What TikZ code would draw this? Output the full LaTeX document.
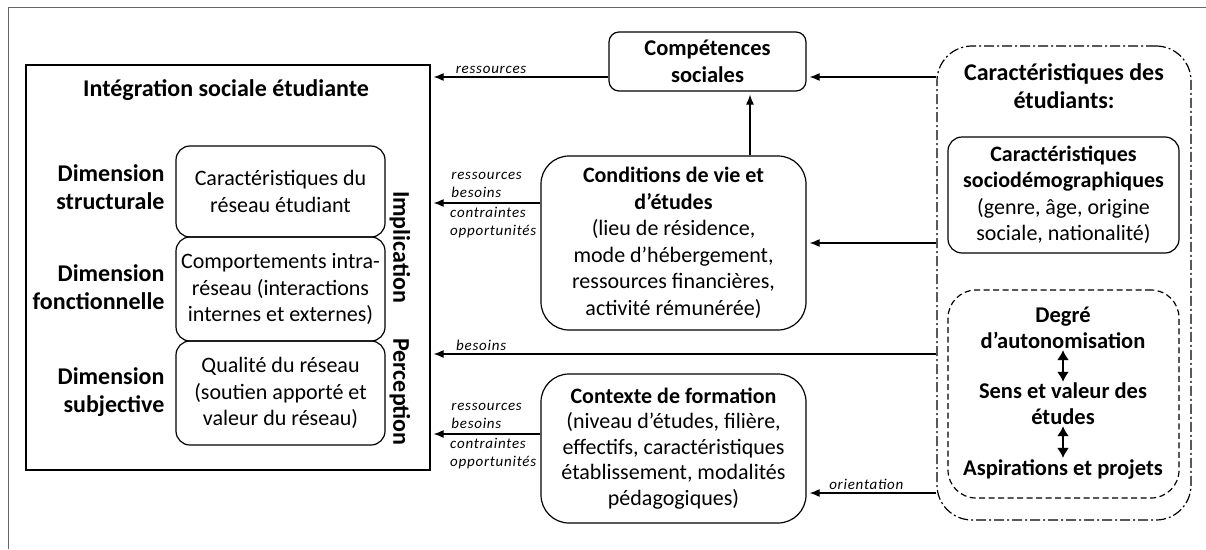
\documentclass[tikz,border=0pt]{standalone}
\usepackage{fontspec}
\setmainfont{Carlito}
\usetikzlibrary{arrows.meta}

\begin{document}
\begin{tikzpicture}[x=1pt, y=-1pt,
  txt/.style={font=\fontsize{22}{26.5}\selectfont, align=center},
  hd/.style={font=\fontsize{24}{28}\selectfont\bfseries, align=center},
  dim/.style={font=\fontsize{24}{28}\selectfont\bfseries, align=right, anchor=east},
  lab/.style={font=\fontsize{15}{18}\selectfont\itshape\addfontfeatures{LetterSpace=5}, align=left, inner sep=1pt},
  box/.style={draw, line width=1.2pt, rounded corners=#1, txt},
  arr/.style={-{Latex[length=10pt, width=8pt]}, line width=1.2pt, shorten >=3pt},
  dbl/.style={{Latex[length=10pt, width=12pt]}-{Latex[length=10pt, width=12pt]}, line width=2.5pt}]
\useasboundingbox (0,0) rectangle (1206,549);
\draw[black!60, line width=1pt] (8,549) -- (8,7) -- (1206,7);

\node[draw, line width=1.2pt, minimum width=404pt, minimum height=405pt] (integ) at (228,267.5) {};
\node[hd] (titre) at (226,90) {Intégration sociale étudiante};
\node[box=14pt, minimum width=209pt, minimum height=91pt] (struct) at (280.5,191.5) {Caractéristiques du\\réseau étudiant};
\node[box=14pt, minimum width=209pt, minimum height=104pt] (fonct) at (280.5,289) {Comportements intra-\\réseau (interactions\\internes et externes)};
\node[box=14pt, minimum width=209pt, minimum height=104pt] (subj) at (280.5,393) {Qualité du réseau\\(soutien apporté et\\valeur du réseau)};
\node[dim] (dstruct) at (168,187) {Dimension\\structurale};
\node[dim] (dfonct) at (168,287) {Dimension\\fonctionnelle};
\node[dim] (dsubj) at (168,392) {Dimension\\subjective};
\node[hd, rotate=-90] (impl) at (400,247) {Implication};
\node[hd, rotate=-90] (perc) at (400,392) {Perception};

\node[box=10pt, font=\fontsize{22.5}{26.5}\selectfont\bfseries, minimum width=197pt, minimum height=59pt] (comp) at (707.5,61.5) {Compétences\\sociales};
\node[box=28pt, minimum width=265pt, minimum height=174pt] (cond) at (673.5,243) {\textbf{Conditions de vie et}\\\textbf{d’études}\\(lieu de résidence,\\mode d’hébergement,\\ressources financières,\\activité rémunérée)};
\node[box=28pt, font=\fontsize{22}{25.5}\selectfont, minimum width=265pt, minimum height=149pt] (ctx) at (673.5,448.5) {\textbf{Contexte de formation}\\(niveau d’études, filière,\\effectifs, caractéristiques\\établissement, modalités\\pédagogiques)};

\node[draw, line width=1.2pt, rounded corners=35pt, dash pattern=on 10pt off 3pt on 2pt off 3pt, minimum width=254pt, minimum height=474pt] (carac) at (1064,283) {};
\node[hd] (caractitre) at (1064,86) {Caractéristiques des\\étudiants:};
\node[box=14pt, minimum width=231pt, minimum height=116pt] (socio) at (1063.5,195) {\textbf{Caractéristiques}\\\textbf{sociodémographiques}\\(genre, âge, origine\\sociale, nationalité)};
\node[draw, line width=1.2pt, rounded corners=28pt, dash pattern=on 6pt off 3.5pt, minimum width=231pt, minimum height=208pt] (autobox) at (1063.5,394) {};
\node[hd, font=\fontsize{22.5}{26}\selectfont\bfseries, inner sep=1pt] (degre) at (1063,328) {Degré\\d’autonomisation};
\node[hd, font=\fontsize{22.5}{26}\selectfont\bfseries, inner sep=1pt] (sens) at (1063,404) {Sens et valeur des\\études};
\node[hd, font=\fontsize{22.5}{26}\selectfont\bfseries, inner sep=1pt] (projets) at (1063,469) {Aspirations et projets};
\draw[dbl] (degre) -- (sens);
\draw[dbl] (sens) -- (projets);

\draw[arr] (comp.west |- 0,77) -- (integ.east |- 0,77) node[lab, pos=0.66, above=2pt] {ressources};
\draw[arr] (cond.west |- 0,203) -- (integ.east |- 0,203) node[lab, pos=0.49, above=4pt] {ressources\\besoins} node[lab, pos=0.43, below=3pt] {contraintes\\opportunités};
\draw[arr] (ctx.west |- 0,434) -- (integ.east |- 0,434) node[lab, pos=0.49, above=4pt] {ressources\\besoins} node[lab, pos=0.43, below=3pt] {contraintes\\opportunités};
\draw[arr] (cond.north -| 750,0) -- (comp.south -| 750,0);
\draw[arr] (carac.west |- 0,77) -- (comp.east |- 0,77);
\draw[arr] (carac.west |- cond.east) -- (cond.east);
\draw[arr] (carac.west |- 0,354) -- (integ.east |- 0,354) node[lab, pos=0.9, above=2pt] {besoins};
\draw[arr] (carac.west |- 0,493) -- (ctx.east |- 0,493) node[lab, pos=0.54, above=2pt] {orientation};
\end{tikzpicture}
\end{document}
